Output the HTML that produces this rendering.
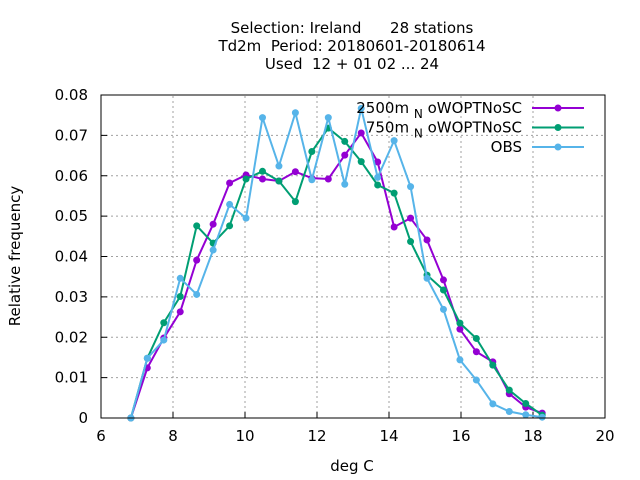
<!DOCTYPE html>
<html><head><meta charset="utf-8"><style>
body{margin:0;background:#fff}
svg{display:block;font-family:"DejaVu Sans","Liberation Sans",sans-serif}
</style></head><body>
<svg id="chart" width="640" height="480" xmlns="http://www.w3.org/2000/svg">
<g font-size="15" text-anchor="middle" fill="#000">
<text x="352" y="33" xml:space="preserve">Selection: Ireland      28 stations</text>
<text x="352" y="51" xml:space="preserve">Td2m  Period: 20180601-20180614</text>
<text x="352" y="69" xml:space="preserve">Used  12 + 01 02 ... 24</text>
</g>
<g id="grid"></g>
<g id="axes"></g>
<g id="series"></g>
<rect x="101" y="95" width="504" height="323" fill="none" stroke="#000" stroke-width="1"/>
<text x="20" y="256" font-size="15" text-anchor="middle" transform="rotate(-90 20 256)">Relative frequency</text>
<text x="352" y="471" font-size="15" text-anchor="middle">deg C</text>
<g id="legend" font-size="15" text-anchor="end"></g>
</svg>
<script>
const xTicks=[6,8,10,12,14,16,18,20];
const yTicks=[0,0.01,0.02,0.03,0.04,0.05,0.06,0.07,0.08];
const yTickLabels=["0","0.01","0.02","0.03","0.04","0.05","0.06","0.07","0.08"];
const xStart=6.83, xStep=0.457;
const seriesNames=["2500m","750m","OBS"];
const purpleVals=[0,.0124,.0198,.0263,.0391,.048,.0582,.0602,.0592,.0587,.061,.0594,.0592,.0651,.0706,.0634,.0473,.0495,.0441,.0342,.022,.0164,.0139,.006,.0027,.0012];
const greenVals=[0,.0148,.0236,.0301,.0476,.0433,.0476,.0592,.0611,.0587,.0536,.066,.0718,.0685,.0635,.0577,.0557,.0437,.0354,.0317,.0235,.0197,.0131,.0069,.0036,.0007];
const obsVals=[0,.0148,.0193,.0346,.0306,.0416,.0529,.0495,.0744,.0624,.0756,.059,.0744,.0579,.0767,.0596,.0687,.0573,.0346,.0269,.0144,.0094,.0035,.0016,.0008,.0002];
const NS="http://www.w3.org/2000/svg";
const X0=101,X1=605,Y0=418,Y1=95;
const xs=v=>X0+(v-6)/(20-6)*(X1-X0);
const ys=v=>Y0-(v/0.08)*(Y0-Y1);
function mk(t,a,p){const e=document.createElementNS(NS,t);for(const k in a)e.setAttribute(k,a[k]);p.appendChild(e);return e;}
const grid=document.getElementById('grid'),axes=document.getElementById('axes');
xTicks.forEach((t,i)=>{const x=xs(t);
 if(i>0&&i<xTicks.length-1){const l=mk('line',{x1:x,x2:x,y1:Y0,y2:Y1,stroke:'#a0a0a0','stroke-dasharray':'2,3'},grid);
 
 }
 const tk=mk('line',{x1:x,x2:x,y1:Y0,y2:Y0-6,stroke:'#000'},axes);
 
 
 const tx=mk('text',{x:x,y:Y0+23,'font-size':15,'text-anchor':'middle'},axes);tx.textContent=t;
 
 
});
yTicks.forEach((t,i)=>{const y=ys(t);
 if(i>0&&i<yTicks.length-1){const l=mk('line',{x1:X0,x2:X1,y1:y,y2:y,stroke:'#a0a0a0','stroke-dasharray':'2,3'},grid);
 
 }
 const tk=mk('line',{x1:X0,x2:X0+6,y1:y,y2:y,stroke:'#000'},axes);
 
 
 const tx=mk('text',{x:X0-13,y:y+5,'font-size':15,'text-anchor':'end'},axes);tx.textContent=yTickLabels[i];
 
 
});
const ser=document.getElementById('series');
const cols=['#9400d3','#009e73','#56b4e9'];
[purpleVals,greenVals,obsVals].forEach((vals,si)=>{
 const g=mk('g',{},ser);
 
 
 const pts=vals.map((v,i)=>xs(xStart+i*xStep)+','+ys(v)).join(' ');
 const pl=mk('polyline',{points:pts,fill:'none',stroke:cols[si],'stroke-width':2},g);
 
 
 vals.forEach((v,i)=>{const c=mk('circle',{cx:xs(xStart+i*xStep),cy:ys(v),r:3.5,fill:cols[si]},g);
 
 });
});
const leg=document.getElementById('legend');
const labels=[['2500m','N','oWOPTNoSC'],['750m','N','oWOPTNoSC'],['OBS']];
labels.forEach((lb,i)=>{const y=108+i*19.5;
 const tx=mk('text',{x:522,y:y+5},leg);
 
 
 if(lb.length===1)tx.textContent=lb[0];
 else{tx.textContent=lb[0]+' ';const s=mk('tspan',{'font-size':12,dy:5},tx);s.textContent=lb[1];const s2=mk('tspan',{dy:-5},tx);s2.textContent=' '+lb[2];}
 const l=mk('line',{x1:532,x2:584,y1:y,y2:y,stroke:cols[i],'stroke-width':2},leg);
 
 
 const c=mk('circle',{cx:558,cy:y,r:3.5,fill:cols[i]},leg);
 
 
});
</script>
</body></html>
